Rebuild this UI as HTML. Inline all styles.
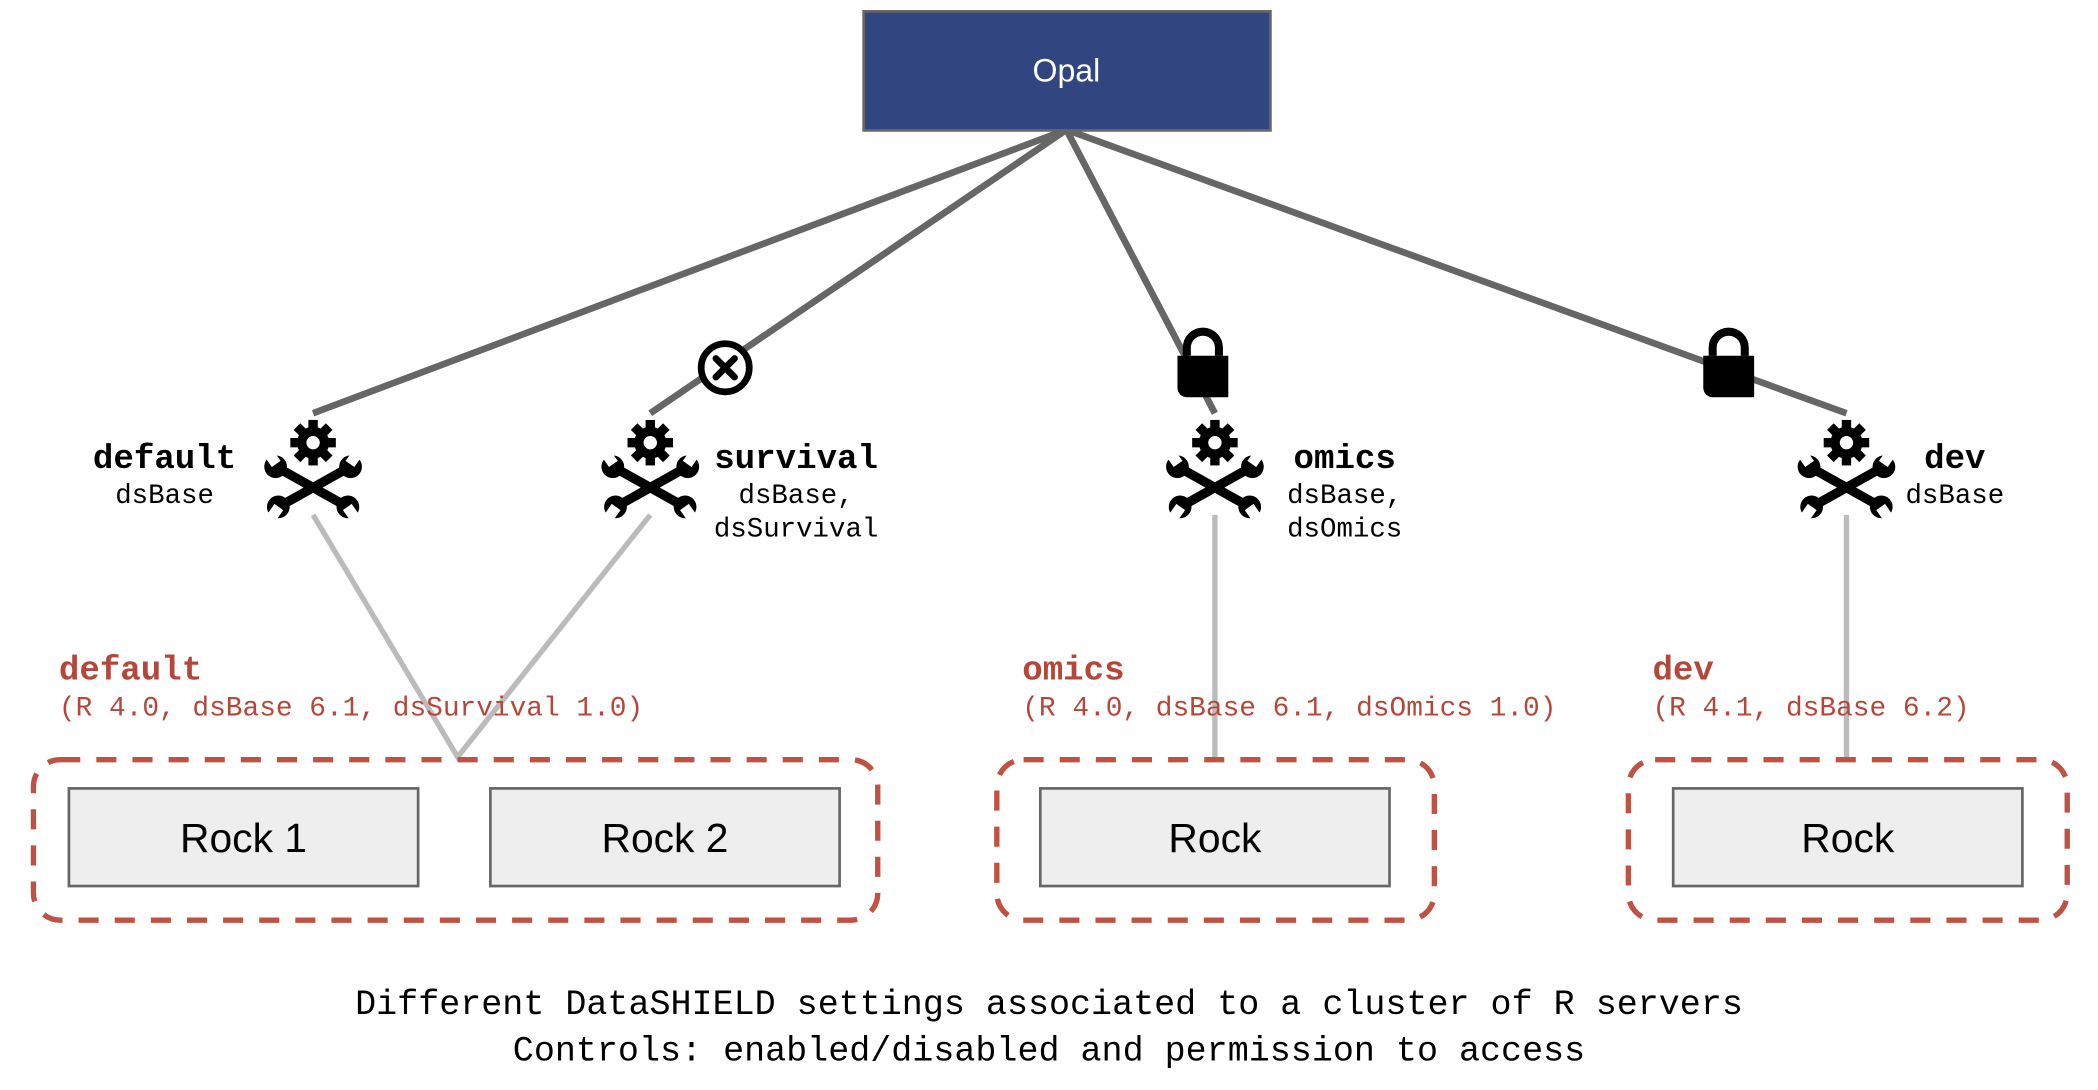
<!DOCTYPE html>
<html><head><meta charset="utf-8"><style>
html,body{margin:0;padding:0;background:#fff;width:2098px;height:1090px;overflow:hidden}
svg{display:block}
.mono{font-family:"Liberation Mono","DejaVu Sans Mono",monospace}
</style></head><body>
<svg width="2098" height="1090" viewBox="0 0 1568 815" preserveAspectRatio="none" xmlns="http://www.w3.org/2000/svg">
<defs>
<g id="tool">
  <g stroke="#000" stroke-width="7" stroke-linecap="round">
    <line x1="-26" y1="-12" x2="24" y2="16"/>
    <line x1="26" y1="-12" x2="-24" y2="16"/>
  </g>
  <g fill="#000">
    <circle cx="-28" cy="-13" r="8.5"/><circle cx="28" cy="-13" r="8.5"/>
    <circle cx="-26" cy="17" r="8.5"/><circle cx="26" cy="17" r="8.5"/>
  </g>
  <g fill="#fff">
    <rect x="-35" y="-26" width="8" height="12" transform="rotate(-35 -31 -20)"/>
    <rect x="27" y="-26" width="8" height="12" transform="rotate(35 31 -20)"/>
    <rect x="-33" y="16" width="8" height="12" transform="rotate(-145 -29 22)"/>
    <rect x="25" y="16" width="8" height="12" transform="rotate(145 29 22)"/>
  </g>
  <g transform="translate(0,-31)" fill="#000">
    <circle r="12"/>
    <rect x="-3.5" y="-17" width="7" height="34"/>
    <rect x="-17" y="-3.5" width="34" height="7"/>
    <rect x="-3.5" y="-17" width="7" height="34" transform="rotate(45)"/>
    <rect x="-3.5" y="-17" width="7" height="34" transform="rotate(-45)"/>
    <circle r="5" fill="#fff"/>
  </g>
</g>
<g id="lock">
  <path d="M-12,-6 V-12 A12,12 0 0 1 12,-12 V-6" fill="none" stroke="#000" stroke-width="6"/>
  <path d="M-19,-6 H19 V25 H-12 A7,7 0 0 1 -19,18 Z" fill="#000"/>
</g>
</defs>

<g stroke="#666" stroke-width="5" fill="none">
  <line x1="797" y1="97" x2="234" y2="309"/>
  <line x1="797" y1="97" x2="486" y2="309"/>
  <line x1="797" y1="97" x2="908" y2="309"/>
  <line x1="797" y1="97" x2="1380" y2="309"/>
</g>
<g stroke="#bbb" stroke-width="4" fill="none">
  <polyline points="234,385 342,566 486,385"/>
  <line x1="908" y1="385" x2="908" y2="568"/>
  <line x1="1380" y1="385" x2="1380" y2="568"/>
</g>

<rect x="645.5" y="8.5" width="304" height="89" fill="#314680" stroke="#666" stroke-width="2"/>
<text x="797" y="61" text-anchor="middle" font-family="Liberation Sans, sans-serif" font-size="24" fill="#fff">Opal</text>

<circle cx="542" cy="275" r="18" fill="#fff" stroke="#000" stroke-width="5"/>
<g stroke="#000" stroke-width="5" stroke-linecap="round"><line x1="535" y1="268" x2="549" y2="282"/><line x1="549" y1="268" x2="535" y2="282"/></g>

<use href="#lock" x="899" y="272"/>
<use href="#lock" x="1292" y="272"/>

<use href="#tool" x="234" y="362"/>
<use href="#tool" x="486" y="362"/>
<use href="#tool" x="908" y="362"/>
<use href="#tool" x="1380" y="362"/>

<g class="mono" fill="#000">
  <text x="123" y="350" text-anchor="middle" font-size="25.5" font-weight="bold">default</text>
  <text x="123" y="376" text-anchor="middle" font-size="20.5">dsBase</text>
  <text x="595" y="350" text-anchor="middle" font-size="25.5" font-weight="bold">survival</text>
  <text x="595" y="376" text-anchor="middle" font-size="20.5">dsBase,</text>
  <text x="595" y="401" text-anchor="middle" font-size="20.5">dsSurvival</text>
  <text x="1005" y="350" text-anchor="middle" font-size="25.5" font-weight="bold">omics</text>
  <text x="1005" y="376" text-anchor="middle" font-size="20.5">dsBase,</text>
  <text x="1005" y="401" text-anchor="middle" font-size="20.5">dsOmics</text>
  <text x="1461" y="350" text-anchor="middle" font-size="25.5" font-weight="bold">dev</text>
  <text x="1461" y="376" text-anchor="middle" font-size="20.5">dsBase</text>
</g>

<g class="mono" fill="#b5473a">
  <text x="44" y="508" font-size="25.5" font-weight="bold">default</text>
  <text x="44" y="535" font-size="20.8">(R 4.0, dsBase 6.1, dsSurvival 1.0)</text>
  <text x="764" y="508" font-size="25.5" font-weight="bold">omics</text>
  <text x="764" y="535" font-size="20.8">(R 4.0, dsBase 6.1, dsOmics 1.0)</text>
  <text x="1235" y="508" font-size="25.5" font-weight="bold">dev</text>
  <text x="1235" y="535" font-size="20.8">(R 4.1, dsBase 6.2)</text>
</g>

<g fill="none" stroke="#c05243" stroke-width="4" stroke-dasharray="15 12">
  <rect x="25" y="568" width="631" height="120" rx="20"/>
  <rect x="745" y="568" width="327" height="120" rx="20"/>
  <rect x="1217" y="568" width="328" height="120" rx="20"/>
</g>

<g fill="#eeeeee" stroke="#666" stroke-width="2">
  <rect x="51.5" y="589.5" width="261" height="73"/>
  <rect x="366.5" y="589.5" width="261" height="73"/>
  <rect x="777.5" y="589.5" width="261" height="73"/>
  <rect x="1250.5" y="589.5" width="261" height="73"/>
</g>
<g font-family="Liberation Sans, sans-serif" font-size="30.5" fill="#000" text-anchor="middle">
  <text x="182" y="637">Rock 1</text>
  <text x="497" y="637">Rock 2</text>
  <text x="908" y="637">Rock</text>
  <text x="1381" y="637">Rock</text>
</g>

<g class="mono" font-size="26.2" fill="#000" text-anchor="middle">
  <text x="784" y="758">Different DataSHIELD settings associated to a cluster of R servers</text>
  <text x="784" y="793">Controls: enabled/disabled and permission to access</text>
</g>
</svg>
</body></html>
